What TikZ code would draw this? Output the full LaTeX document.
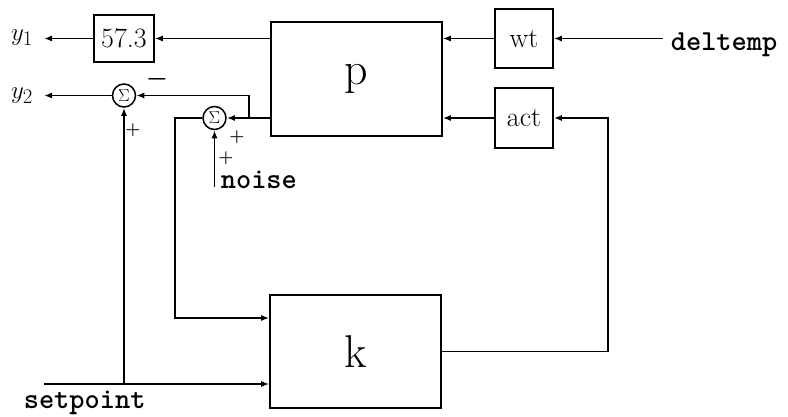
\documentclass[tikz,border=0pt]{standalone}
\usetikzlibrary{arrows.meta}
\begin{document}
\begin{tikzpicture}[x=1pt,y=-1pt, line width=1.6pt,
  blk/.style={draw, line width=1.6pt, inner sep=0pt, font=\fontsize{28}{28}\selectfont},
  big/.style={font=\fontsize{46}{46}\selectfont},
  sumn/.style={draw, circle, minimum size=23pt, inner sep=0pt, line width=1.5pt, font=\fontsize{16}{16}\selectfont},
  sig/.style={-{Latex[length=8pt,width=6pt]}},
  tt/.style={font=\fontsize{29}{29}\selectfont\ttfamily\bfseries, inner sep=0pt},
  outl/.style={font=\fontsize{29}{29}\selectfont, inner sep=0pt},
  sgn/.style={font=\boldmath\fontsize{18}{18}\selectfont, inner sep=0pt}]
\useasboundingbox (0,0) rectangle (788,416);

% blocks
\node[blk, minimum width=60pt, minimum height=47pt] (g) at (124,38.5) {57.3};
\node[blk, big, minimum width=171pt, minimum height=114pt] (p) at (356.5,79) {p};
\node[blk, minimum width=58pt, minimum height=59pt] (wt) at (524,38.5) {wt};
\node[blk, minimum width=58pt, minimum height=60pt] (act) at (524,118) {act};
\node[blk, big, minimum width=171pt, minimum height=113pt] (k) at (355.5,351.5) {k};
\node[sumn] (s2) at (124,95.5) {$\Sigma$};
\node[sumn] (s1) at (214.5,118) {$\Sigma$};

% outputs / inputs
\node[outl] (y1) at (22,38) {$y_1$};
\node[outl] (y2) at (22,96) {$y_2$};
\coordinate (o1) at (44,38.5);
\coordinate (o2) at (44,95.5);
\node[tt, anchor=base west] (dtl) at (670,50) {deltemp};
\coordinate (dtin) at (663,38.5);
\node[tt, anchor=base west] (nzl) at (220,188) {noise};
\coordinate (nz) at (214.5,187);
\node[tt, anchor=base west] (spl) at (23,408) {setpoint};
\coordinate (sp) at (44,384);
\coordinate (spb) at (124,384);
\coordinate (br) at (249,118);
\coordinate (c1) at (175,318);
\coordinate (fb) at (608,351.5);

% signs
\node[sgn, font=\boldmath\fontsize{24}{24}\selectfont] (m2) at (157,79.5) {$-$};
\node[sgn] (p2) at (133,130) {$+$};
\node[sgn] (p1a) at (237,137) {$+$};
\node[sgn] (p1b) at (226,158) {$+$};

% connectors
\draw[sig] (p.west |- g.east) -- (g.east);
\draw[sig] (g.west) -- (o1);
\draw[sig] (wt.west) -- (p.east |- wt.west);
\draw[sig] (dtin) -- (wt.east);
\draw[sig] (act.west) -- (p.east |- act.west);
\draw[sig] (p.west |- s1.east) -- (s1.east);
\draw[sig] (br) |- (s2.east);
\draw[sig] (s2.west) -- (o2);
\draw[sig] (s1.west) -| (c1) -- (k.west |- c1);
\draw[sig] (nz) -- (s1.south);
\draw[sig] (sp) -- (k.west |- sp);
\draw[sig] (spb) -- (s2.south);
\draw[sig] (k.east) -- (fb) |- (act.east);
\end{tikzpicture}
\end{document}
